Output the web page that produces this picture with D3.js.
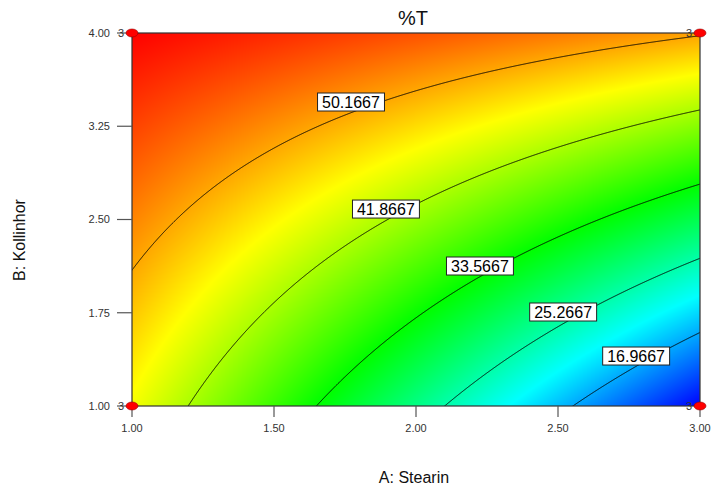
<!DOCTYPE html>
<html>
<head>
<meta charset="utf-8">
<script src="https://cdn.jsdelivr.net/npm/d3@7/dist/d3.min.js"></script>
<style>
  html, body { margin: 0; padding: 0; background: #fff; }
  svg { display: block; font-family: Arial, "Liberation Sans", sans-serif; }
</style>
</head>
<body>
<svg id="chart" width="711" height="490"></svg>
<script>
// ---- data ----
const title = "%T";
const xTitle = "A: Stearin";
const yTitle = "B: Kollinhor";
const xDomain = [1, 3];
const yDomain = [1, 4];
const xTicks = [1.00, 1.50, 2.00, 2.50, 3.00];
const yTicks = [1.00, 1.75, 2.50, 3.25, 4.00];
// fitted response-surface coefficients: intercept, A, B, AB
const modelCoefficients = [64.43, -23.2, -0.55, 4.82];
const contourLevels = [16.9667, 25.2667, 33.5667, 41.8667, 50.1667];
const labelA = [2.775, 2.518, 2.225, 1.894, 1.771];
const labelB = [1.402, 1.756, 2.126, 2.584, 3.445];
const designA = [1, 3, 1, 3];
const designB = [1, 1, 4, 4];
const designCount = [3, 3, 3, 3];
const rampColors = ["#0000ff", "#00ffff", "#00ff00", "#ffff00", "#ff0000"];

// ---- layout ----
const W = 711, H = 490;
const plot = { left: 132, right: 700, top: 33, bottom: 406 };

const svg = d3.select("#chart");
const x = d3.scaleLinear().domain(xDomain).range([plot.left, plot.right]);
const y = d3.scaleLinear().domain(yDomain).range([plot.bottom, plot.top]);

const model = (a, b) => {
  const c = modelCoefficients;
  return c[0] + c[1] * a + c[2] * b + c[3] * a * b;
};

// colour domain from the surface corners
const cornerVals = [];
xDomain.forEach(a => yDomain.forEach(b => cornerVals.push(model(a, b))));
const zMin = d3.min(cornerVals), zMax = d3.max(cornerVals);
const color = d3.scaleLinear()
  .domain(d3.range(rampColors.length).map(i => zMin + (zMax - zMin) * i / (rampColors.length - 1)))
  .range(rampColors)
  .interpolate(d3.interpolateRgb)
  .clamp(true);

// ---- raster of the surface ----
const pw = plot.right - plot.left, ph = plot.bottom - plot.top;
const canvas = document.createElement("canvas");
canvas.width = pw; canvas.height = ph;
const ctx = canvas.getContext("2d");
const img = ctx.createImageData(pw, ph);
for (let j = 0; j < ph; j++) {
  for (let i = 0; i < pw; i++) {
    const a = x.invert(plot.left + i + 0.5);
    const b = y.invert(plot.top + j + 0.5);
    const c = d3.rgb(color(model(a, b)));
    const k = (j * pw + i) * 4;
    img.data[k] = c.r; img.data[k + 1] = c.g; img.data[k + 2] = c.b; img.data[k + 3] = 255;
  }
}
ctx.putImageData(img, 0, 0);
svg.append("image")
  .attr("x", plot.left).attr("y", plot.top)
  .attr("width", pw).attr("height", ph)
  .attr("preserveAspectRatio", "none")
  .attr("href", canvas.toDataURL());

// ---- contour lines ----
const pad = 3;
const gx = pw + 2 * pad, gy = ph + 2 * pad;
const values = new Float64Array(gx * gy);
for (let j = 0; j < gy; j++) {
  for (let i = 0; i < gx; i++) {
    values[j * gx + i] = model(x.invert(plot.left - pad + i + 0.5), y.invert(plot.top - pad + j + 0.5));
  }
}
const contours = d3.contours().size([gx, gy]).thresholds(contourLevels)(values);
svg.append("clipPath").attr("id", "plotclip")
  .append("rect").attr("x", plot.left).attr("y", plot.top).attr("width", pw).attr("height", ph);
svg.append("g")
  .attr("clip-path", "url(#plotclip)")
  .append("g")
  .attr("transform", `translate(${plot.left - pad},${plot.top - pad})`)
  .selectAll("path")
  .data(contours)
  .join("path")
  .attr("d", d3.geoPath())
  .attr("fill", "none")
  .attr("stroke", "#000")
  .attr("stroke-width", 0.9);

// ---- frame ----
svg.append("rect")
  .attr("x", plot.left).attr("y", plot.top).attr("width", pw).attr("height", ph)
  .attr("fill", "none").attr("stroke", "#333").attr("stroke-width", 1.2);

// ---- axes ----
const tickColor = "#555", labelColor = "#333";
const yAxis = svg.append("g");
yAxis.selectAll("line").data(yTicks).join("line")
  .attr("x1", plot.left - 15).attr("x2", plot.left)
  .attr("y1", d => y(d)).attr("y2", d => y(d))
  .attr("stroke", tickColor).attr("stroke-width", 1.2);
yAxis.selectAll("text").data(yTicks).join("text")
  .attr("x", plot.left - 22).attr("y", d => y(d)).attr("dy", "0.35em")
  .attr("text-anchor", "end").attr("font-size", 11).attr("fill", labelColor)
  .text(d => d3.format(".2f")(d));

const xAxis = svg.append("g");
xAxis.selectAll("line").data(xTicks).join("line")
  .attr("x1", d => x(d)).attr("x2", d => x(d))
  .attr("y1", plot.bottom).attr("y2", plot.bottom + 11)
  .attr("stroke", tickColor).attr("stroke-width", 1.2);
xAxis.selectAll("text").data(xTicks).join("text")
  .attr("x", d => x(d)).attr("y", plot.bottom + 26)
  .attr("text-anchor", "middle").attr("font-size", 11).attr("fill", labelColor)
  .text(d => d3.format(".2f")(d));

// ---- titles ----
svg.append("text").attr("x", 413).attr("y", 25)
  .attr("text-anchor", "middle").attr("font-size", 20).attr("fill", "#111").text(title);
svg.append("text").attr("x", 414).attr("y", 483)
  .attr("text-anchor", "middle").attr("font-size", 16).attr("fill", "#111").text(xTitle);
svg.append("text").attr("transform", "translate(25,240) rotate(-90)")
  .attr("text-anchor", "middle").attr("font-size", 16).attr("fill", "#111").text(yTitle);

// ---- contour labels ----
const labels = svg.append("g").selectAll("g")
  .data(contourLevels.map((v, i) => ({ v, a: labelA[i], b: labelB[i] })))
  .join("g")
  .attr("transform", d => `translate(${x(d.a)},${y(d.b)})`);
labels.append("text")
  .attr("text-anchor", "middle").attr("dy", "0.36em")
  .attr("font-size", 16).attr("fill", "#000")
  .text(d => d3.format(".4f")(d.v));
labels.each(function () {
  const g = d3.select(this);
  const bb = g.select("text").node().getBBox();
  g.insert("rect", "text")
    .attr("x", bb.x - 4.5).attr("y", -9)
    .attr("width", bb.width + 9).attr("height", 18)
    .attr("fill", "#fff").attr("stroke", "#222").attr("stroke-width", 1);
});

// ---- design points ----
const pts = svg.append("g").selectAll("g")
  .data(designA.map((a, i) => ({ a, b: designB[i], n: designCount[i] })))
  .join("g")
  .attr("transform", d => `translate(${x(d.a)},${y(d.b)})`);
pts.append("text")
  .attr("x", -8).attr("dy", "0.35em").attr("text-anchor", "end")
  .attr("font-size", 11).attr("fill", "#333")
  .text(d => d.n);
pts.append("ellipse")
  .attr("rx", 6).attr("ry", 4)
  .attr("fill", "#ff0000").attr("stroke", "#990000").attr("stroke-width", 0.6);
</script>
</body>
</html>
